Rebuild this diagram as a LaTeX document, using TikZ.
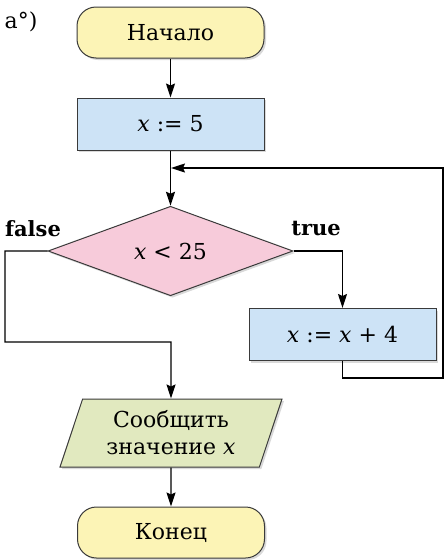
\documentclass[tikz,border=0pt]{standalone}
\usepackage{fontspec}
\setmainfont{DejaVu Serif}
\usetikzlibrary{shapes.geometric,arrows.meta,shadows}
\definecolor{termfill}{HTML}{FCF4B6}
\definecolor{procfill}{HTML}{CDE3F6}
\definecolor{condfill}{HTML}{F7CBDA}
\definecolor{iofill}{HTML}{E1E9BF}
\definecolor{edge}{HTML}{3A3A3A}
\begin{document}
\begin{tikzpicture}[x=1pt,y=-1pt,
  font=\fontsize{22}{27}\selectfont,
  shad/.style={drop shadow={opacity=0.3,shadow xshift=2pt,shadow yshift=-2pt}},
  term/.style={shape=rectangle,rounded corners=19pt,draw=edge,line width=1pt,fill=termfill,minimum width=187pt,minimum height=51pt,shad},
  proc/.style={shape=rectangle,draw=edge,line width=1pt,fill=procfill,minimum width=187pt,minimum height=52pt,shad},
  cond/.style={shape=diamond,draw=edge,line width=1pt,fill=condfill,minimum width=245pt,minimum height=88pt,inner sep=0pt,shad},
  io/.style={shape=trapezium,trapezium left angle=63,trapezium right angle=117,trapezium stretches body,draw=edge,line width=1pt,fill=iofill,minimum width=222pt,minimum height=68pt,inner sep=0pt,align=center,shad},
  conn/.style={line width=1.4pt,black},
  arr/.style={conn,-{Stealth[length=14pt,width=9pt,inset=2pt]}},
  lbl/.style={font=\fontsize{21}{25}\selectfont\bfseries}
]
\useasboundingbox (0,0) rectangle (444,560);
\node (tag) at (21,22) {a°)};
\node[term] (start) at (170.5,32.5) {Начало};
\node[proc] (set) at (170.5,124) {\textit{x} := 5};
\node[cond] (cond) at (170.5,251) {\textit{x} < 25};
\node[proc] (inc) at (342.5,334.5) {\textit{x} := \textit{x} + 4};
\node[io] (out) at (171,433) {Сообщить\\значение \textit{x}};
\node[term] (end) at (171,532.5) {Конец};
\node[lbl] (f) at (33,229) {false};
\node[lbl] (t) at (316,229) {true};

\coordinate (j) at (171,168);
\coordinate (rb) at (443,378);
\coordinate (rt) at (443,168);
\coordinate (fl) at (5,342);
\coordinate (fm) at (171,342);

\draw[arr] (start) -- (set);
\draw[arr] (set.south) -- (cond.north);
\draw[arr] (cond.east) -| (inc.north);
\draw[arr] (inc.south) |- (rb) -- (rt) -- (j);
\draw[arr] (cond.west) -| (fl) -- (fm) -- (out.north);
\draw[arr] (out.south) -- (end.north);
\end{tikzpicture}
\end{document}
